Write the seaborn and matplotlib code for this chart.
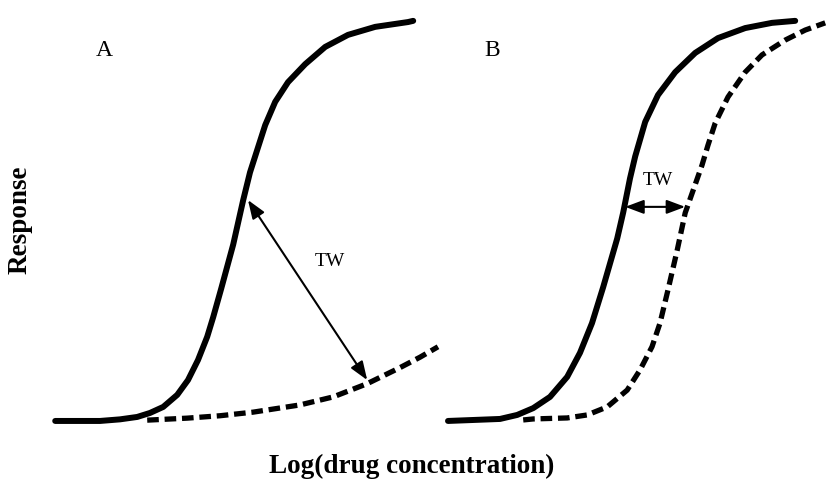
import seaborn as sns
import matplotlib.pyplot as plt
import numpy as np
import pandas as pd

# Curves: x = log(concentration), y = response (%)
# Panel A
a_solid_x = [0.38, 1.5, 2.0, 2.43, 2.75, 3.08, 3.43, 3.7, 3.95, 4.18, 4.33, 4.53,
             4.83, 5.08, 5.25, 5.43, 5.63, 5.88, 6.2, 6.63, 7.13, 7.7, 8.38, 9.2, 9.33]
a_solid_y = [0, 0, 0.4, 1.0, 2.0, 3.5, 6.5, 10.2, 15.2, 21.0, 25.9, 33.0,
             44.0, 55.1, 62.0, 67.6, 73.8, 79.6, 84.5, 89.0, 93.3, 96.3, 98.3, 99.5, 99.8]
a_dash_x = [2.68, 3.68, 4.5, 5.33, 6.5, 7.33, 8.18, 9.0, 9.5, 9.95]
a_dash_y = [0.2, 0.7, 1.3, 2.2, 4.0, 6.0, 9.3, 13.3, 15.9, 18.5]

# Panel B
b_solid_x = [0.5, 1.8, 2.23, 2.63, 3.05, 3.48, 3.8, 4.1, 4.38, 4.73, 4.88, 5.05,
             5.18, 5.43, 5.75, 6.18, 6.68, 7.25, 7.93, 8.6, 9.18]
b_solid_y = [0, 0.5, 1.5, 3.2, 6.0, 11.0, 17.0, 24.4, 33.4, 45.5, 52.0, 60.5,
             66.0, 74.6, 81.3, 87.0, 91.8, 95.5, 98.0, 99.3, 99.8]
b_dash_x = [2.38, 2.63, 3.48, 3.98, 4.48, 4.98, 5.3, 5.6, 5.8, 6.0, 6.23, 6.43,
            6.85, 7.0, 7.18, 7.5, 7.93, 8.35, 8.93, 9.43, 9.93]
b_dash_y = [0.25, 0.5, 0.75, 1.5, 3.5, 7.7, 12.7, 18.5, 24.4, 32.7, 42.6, 51.9,
            63.8, 68.8, 74.3, 80.8, 87.0, 91.3, 95.0, 97.5, 99.3]

# therapeutic window arrows: (x0, y0, x1, y1) and label position
tw_a = (5.2, 55.1, 8.18, 10.2)
tw_a_label = (7.25, 39.7)
tw_b = (4.93, 53.4, 6.43, 53.4)
tw_b_label = (5.75, 60.1)

sns.set_style("white")
plt.rcParams['font.family'] = ['Liberation Serif', 'DejaVu Serif']
plt.rcParams['text.color'] = 'black'

fig = plt.figure(figsize=(8.28, 4.84), dpi=100)
ax_a = fig.add_axes([40 / 828, 43 / 484, 400 / 828, 441 / 484])
ax_b = fig.add_axes([428 / 828, 43 / 484, 400 / 828, 441 / 484])


def draw_panel(ax, sx, sy, dx, dy, tw, tw_label, letter):
    solid = pd.DataFrame({"x": sx, "y": sy})
    dashed = pd.DataFrame({"x": dx, "y": dy})
    sns.lineplot(data=solid, x="x", y="y", ax=ax, color="black", lw=4.3,
                 sort=False, estimator=None, solid_capstyle="round",
                 solid_joinstyle="round")
    sns.lineplot(data=dashed, x="x", y="y", ax=ax, color="black", lw=3.8,
                 sort=False, estimator=None, linestyle=(0, (2.2, 1.1)),
                 dash_capstyle="butt", dash_joinstyle="round")
    ax.annotate("", xy=(tw[2], tw[3]), xytext=(tw[0], tw[1]),
                arrowprops=dict(arrowstyle="<|-|>,head_length=0.8,head_width=0.3",
                                color="black", lw=1.5, mutation_scale=14,
                                shrinkA=0, shrinkB=0))
    ax.text(tw_label[0], tw_label[1], "TW", fontsize=14, ha="center", va="center",
            color="black")
    ax.text(1.6, 92.5, letter, fontsize=17, ha="center", va="center", color="black")
    ax.set_xlim(0, 10)
    ax.set_ylim(-5, 105)
    ax.axis("off")


draw_panel(ax_a, a_solid_x, a_solid_y, a_dash_x, a_dash_y, tw_a, tw_a_label, "A")
draw_panel(ax_b, b_solid_x, b_solid_y, b_dash_x, b_dash_y, tw_b, tw_b_label, "B")

fig.text(20 / 828, 1 - 220 / 484, "Response", rotation=90, fontsize=19.5,
         fontweight="bold", ha="center", va="center", color="black")
fig.text(412 / 828, 1 - 466 / 484, "Log(drug concentration)", fontsize=19.5,
         fontweight="bold", ha="center", va="center", color="black")

plt.savefig("out.png", dpi=100)
